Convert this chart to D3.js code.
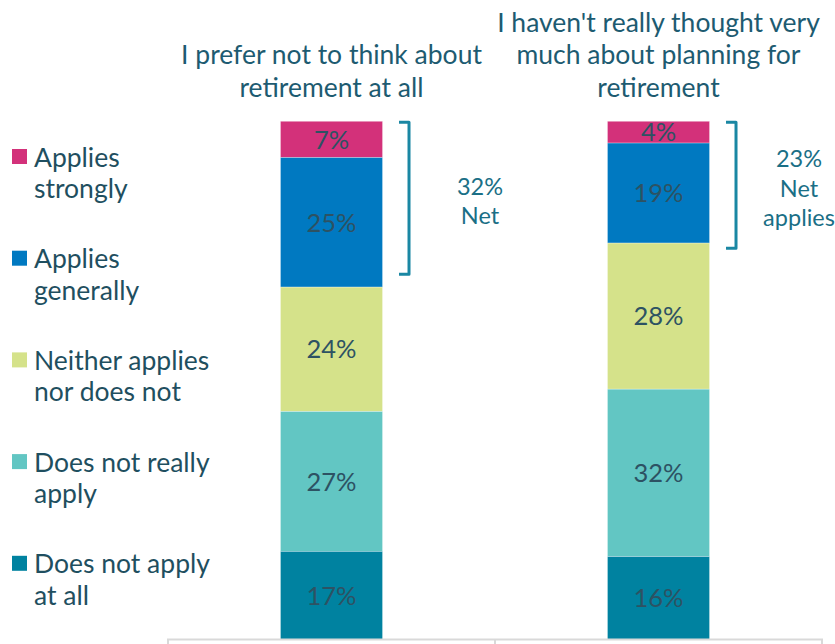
<!DOCTYPE html>
<html>
<head>
<meta charset="utf-8">
<script src="https://cdn.jsdelivr.net/npm/d3@7"></script>
<style>
  html, body { margin: 0; padding: 0; background: #fff; }
  svg { display: block; font-family: Lato, "Open Sans", sans-serif; }
</style>
</head>
<body>
<svg id="chart" width="835" height="644"></svg>
<script>
// ---- data ----
const categories = ["q1", "q2"];
const categoryTitles = [
  ["I prefer not to think about", "retirement at all"],
  ["I haven't really thought very", "much about planning for", "retirement"]
];
const seriesNames = ["Applies strongly", "Applies generally", "Neither applies nor does not", "Does not really apply", "Does not apply at all"];
const legendLines = [
  ["Applies", "strongly"],
  ["Applies", "generally"],
  ["Neither applies", "nor does not"],
  ["Does not really", "apply"],
  ["Does not apply", "at all"]
];
const appliesStrongly   = [7, 4.2];
const appliesGenerally  = [25, 19.3];
const neither           = [24, 28.2];
const notReally         = [27, 32.3];
const notAtAll          = [17, 16.0];
const netLabels = [["32%", "Net"], ["23%", "Net", "applies"]];
const bracketEnd = [70.5, 75.5];
const colors = ["#d3317a", "#0079c1", "#d5e28a", "#62c6c3", "#0082a0"];

const series = [appliesStrongly, appliesGenerally, neither, notReally, notAtAll];

// ---- layout ----
const svg = d3.select("#chart");
const x = d3.scaleBand().domain(categories).range([168, 822]).padding(0);
const barW = x.bandwidth() * 0.312;
const y = d3.scaleLinear().domain([0, 100]).range([639.5, 121.3]);

const rows = categories.map((c, i) => {
  let top = 100;
  return series.map((s, k) => {
    const v = s[i];
    const seg = { cat: c, k, v, y1: top, y0: top - v };
    top -= v;
    return seg;
  });
});

const gBars = svg.append("g");
rows.forEach(segs => {
  gBars.selectAll(null).data(segs).enter().append("rect")
    .attr("x", d => x(d.cat) + x.bandwidth() / 2 - barW / 2)
    .attr("y", d => y(d.y1))
    .attr("width", barW)
    .attr("height", d => y(d.y0) - y(d.y1))
    .attr("fill", d => colors[d.k])
    .attr("stroke", "#ffffff")
    .attr("stroke-opacity", 0.35)
    .attr("stroke-width", 0.8);
  gBars.selectAll(null).data(segs).enter().append("text")
    .attr("x", d => x(d.cat) + x.bandwidth() / 2)
    .attr("y", d => (y(d.y0) + y(d.y1)) / 2)
    .attr("dy", "0.36em")
    .attr("text-anchor", "middle")
    .attr("font-size", 25.5)
    .attr("font-weight", 400)
    .attr("fill", "#2d5263")
    .text(d => Math.round(d.v) + "%");
});

// axis baseline
const axisG = svg.append("g").attr("transform", "translate(0,639.5)");
const axisPath = d3.path();
const ticks = [x.range()[0], x(categories[1]), x.range()[1]];
axisPath.moveTo(ticks[0], 6); axisPath.lineTo(ticks[0], 0); axisPath.lineTo(ticks[2], 0); axisPath.lineTo(ticks[2], 6);
axisPath.moveTo(ticks[1], 0); axisPath.lineTo(ticks[1], 6);
axisG.append("path").attr("d", axisPath.toString())
  .attr("fill", "none").attr("stroke", "#d9d9d9").attr("stroke-width", 2);

// titles
categories.forEach((c, i) => {
  const lines = categoryTitles[i];
  const cx = x(c) + x.bandwidth() / 2;
  const lastY = 87;
  const t = svg.append("text").attr("text-anchor", "middle")
    .attr("font-size", 26.5).attr("fill", "#1d5b71");
  lines.forEach((ln, j) => {
    t.append("tspan").attr("x", cx)
      .attr("y", lastY - (lines.length - 1 - j) * 32.5)
      .attr("dy", "0.36em").text(ln);
  });
});

// brackets and net labels
categories.forEach((c, i) => {
  const right = x(c) + x.bandwidth() / 2 + barW / 2;
  const bx = right + 26.5;
  const y0 = y(100) + 1, y1 = y(bracketEnd[i]);
  const p = d3.path();
  p.moveTo(bx - 10, y0); p.lineTo(bx, y0); p.lineTo(bx, y1); p.lineTo(bx - 10, y1);
  svg.append("path").attr("d", p.toString()).attr("fill", "none")
    .attr("stroke", "#1a87a3").attr("stroke-width", 3).attr("stroke-linejoin", "round");
  const lines = netLabels[i];
  const mid = (y0 + y1) / 2 + 3;
  const t = svg.append("text").attr("text-anchor", "middle")
    .attr("font-size", 23.5).attr("fill", "#1a6f86");
  lines.forEach((ln, j) => {
    t.append("tspan").attr("x", bx + (i === 0 ? 71 : 63))
      .attr("y", mid + (j - (lines.length - 1) / 2) * 29.5)
      .attr("dy", "0.36em").text(ln);
  });
});

// legend
const legend = svg.append("g");
legendLines.forEach((lines, k) => {
  const cy = 157 + k * 101.7;
  legend.append("rect").attr("x", 12).attr("y", cy - 8).attr("width", 15).attr("height", 15)
    .attr("fill", colors[k]);
  const t = legend.append("text").attr("font-size", 26.5).attr("fill", "#1f4f60");
  lines.forEach((ln, j) => {
    t.append("tspan").attr("x", 34).attr("y", cy + j * 31.5).attr("dy", "0.36em").text(ln);
  });
});
</script>
</body>
</html>
